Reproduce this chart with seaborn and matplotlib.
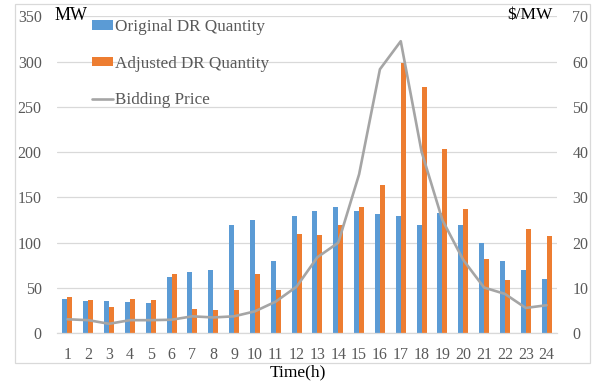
import numpy as np
import pandas as pd
import matplotlib
matplotlib.use("Agg")
import matplotlib.pyplot as plt
from matplotlib.patches import Rectangle
import seaborn as sns

# Hourly demand-response quantities (MW) and bidding price ($/MW)
hours = list(range(1, 25))
original_dr = [38, 36, 36, 35, 34, 62, 68, 70, 120, 125, 80, 130,
               135, 140, 135, 132, 130, 120, 133, 120, 100, 80, 70, 60]
adjusted_dr = [40, 37, 29, 38, 37, 66, 27, 26, 48, 66, 48, 110,
               108, 120, 140, 164, 298, 272, 204, 137, 82, 59, 115, 107]
bidding_price = [3.1, 2.9, 2.1, 2.9, 2.9, 3.0, 3.75, 3.5, 3.75, 4.85, 7.0, 10.3,
                 16.8, 20.0, 35.1, 58.3, 64.5, 40.1, 25.0, 16.2, 10.1, 8.7, 5.6, 6.2]
series_names = ["Original DR Quantity", "Adjusted DR Quantity"]

left_ticks = [0, 50, 100, 150, 200, 250, 300, 350]
right_ticks = [0, 10, 20, 30, 40, 50, 60, 70]

BLUE = "#5B9BD5"
ORANGE = "#ED7D31"
GRAY_LINE = "#A5A5A5"
GRID = "#D9D9D9"
TICK_TXT = "#595959"

sns.set_theme(style="white")
plt.rcParams["font.family"] = ["Liberation Serif", "DejaVu Serif"]

df = pd.DataFrame({
    "hour": hours * 2,
    "value": original_dr + adjusted_dr,
    "series": [series_names[0]] * len(hours) + [series_names[1]] * len(hours),
})

fig = plt.figure(figsize=(5.96, 3.84), dpi=100)
ax = fig.add_axes([57 / 596, 1 - 333.3 / 384, 500 / 596, (333.3 - 16.3) / 384])
ax.patch.set_alpha(0)

sns.barplot(data=df, x="hour", y="value", hue="series",
            palette=[BLUE, ORANGE], width=0.48, ax=ax, saturation=1,
            linewidth=0)

ax.set_ylim(0, 350)
ax.set_xlim(-0.5, len(hours) - 0.5)
ax.set_yticks(left_ticks)
ax.yaxis.grid(True, color=GRID, linewidth=0.9)
ax.set_axisbelow(True)
for s in ["top", "left", "right"]:
    ax.spines[s].set_visible(False)
ax.spines["bottom"].set_color(GRID)
ax.spines["bottom"].set_linewidth(0.9)
ax.tick_params(axis="both", length=0, labelsize=11.5, colors=TICK_TXT)
ax.tick_params(axis="x", pad=10)
ax.tick_params(axis="y", pad=11)
ax.set_ylabel("")
ax.set_xlabel("Time(h)", fontsize=12.5, color="black")
ax.xaxis.set_label_coords((298 - 57) / 500, (333.3 - 364) / 317)

ax2 = ax.twinx()
sns.lineplot(x=np.arange(len(hours)), y=bidding_price, ax=ax2,
             color=GRAY_LINE, linewidth=1.9, label="Bidding Price", legend=False)
ax2.set_ylim(0, 70)
ax2.set_yticks(right_ticks)
for s in ax2.spines.values():
    s.set_visible(False)
ax2.tick_params(axis="y", length=0, labelsize=11.5, colors=TICK_TXT, pad=11)
ax2.set_ylabel("")

# Combined legend
h1, l1 = ax.get_legend_handles_labels()
h2, l2 = ax2.get_legend_handles_labels()
if ax.get_legend() is not None:
    ax.get_legend().remove()
leg = ax2.legend(h1 + h2, l1 + l2, loc="upper left",
                 bbox_to_anchor=((85 - 57) / 500, 1.0 + 4 / 317), frameon=False,
                 fontsize=12.3, labelcolor=TICK_TXT, labelspacing=1.2,
                 handlelength=1.25, handleheight=0.5, handletextpad=0.12,
                 borderaxespad=0.0)

# Unit labels
fig.text(55 / 596, 1 - 15 / 384, "MW", ha="left", va="center", fontsize=13, color="black")
fig.text(553 / 596, 1 - 15 / 384, "$/MW", ha="right", va="center", fontsize=12.5, color="black")

# Chart area border
fig.patches.append(Rectangle((15 / 596, 1 - 363 / 384), (590 - 15) / 596, (363 - 4) / 384,
                             transform=fig.transFigure, fill=False,
                             edgecolor=GRID, linewidth=0.9))

fig.savefig("out.png", dpi=100)
